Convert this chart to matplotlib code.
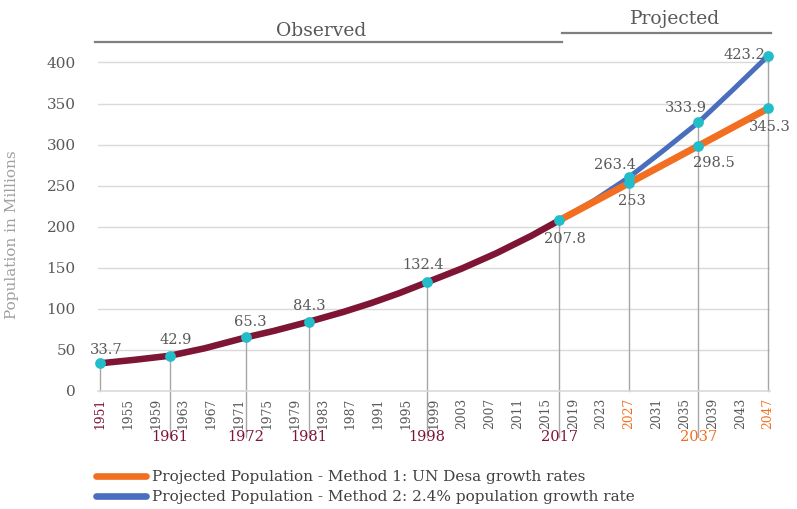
import matplotlib
matplotlib.use('Agg')
import matplotlib.pyplot as plt
from matplotlib.lines import Line2D

plt.rcParams['font.family'] = ['DejaVu Serif']

# ---------------- data ----------------
obs_years = [1951, 1956, 1961, 1966, 1972, 1976, 1981, 1986, 1990, 1994, 1998, 2003, 2008, 2013, 2017]
obs_vals = [33.7, 38.0, 42.9, 51.9, 65.3, 73.2, 84.3, 96.3, 107.1, 119.1, 132.4, 149.1, 167.9, 189.0, 207.8]

m1_years = [2017, 2027, 2037, 2047]
m1_vals = [207.8, 253.0, 298.5, 344.0]

m2_years = [2017, 2022, 2027, 2032, 2037, 2042, 2047]
m2_vals = [207.8, 232.0, 260.0, 293.0, 327.0, 367.0, 408.0]

census_years = [1951, 1961, 1972, 1981, 1998, 2017]
census_vals = [33.7, 42.9, 65.3, 84.3, 132.4, 207.8]
census_labels = ['33.7', '42.9', '65.3', '84.3', '132.4', '207.8']

m1_pts_years = [2027, 2037, 2047]
m1_pts_vals = [253.0, 298.5, 344.0]
m1_labels = ['253', '298.5', '345.3']

m2_pts_years = [2027, 2037, 2047]
m2_pts_vals = [260.0, 327.0, 408.0]
m2_labels = ['263.4', '333.9', '423.2']

tick_years = list(range(1951, 2048, 4))
second_row_years = [1961, 1972, 1981, 1998, 2017, 2037]

legend_labels = ['Projected Population - Method 1: UN Desa growth rates',
                 'Projected Population - Method 2: 2.4% population growth rate']

# ---------------- style ----------------
MAROON = '#7E1535'
ORANGE = '#F26F22'
BLUE = '#4A6EBE'
TEAL = '#22BDC8'
GRAY_TXT = '#595959'
GRID = '#D9D9D9'
DROP = '#A6A6A6'

W, H = 797, 509
fig = plt.figure(figsize=(W / 100, H / 100), dpi=100)
x0, x1 = 1950.7, 2047.3
y0, y1 = 0, 412
px_per_year = 6.958
left_px = 100 - (1951 - x0) * px_per_year
ax_w_px = (x1 - x0) * px_per_year
ax_h_px = 412 * 0.8213
ax = fig.add_axes([left_px / W, (H - 391) / H, ax_w_px / W, ax_h_px / H])
ax.set_xlim(x0, x1)
ax.set_ylim(y0, y1)

for s in ['top', 'right', 'left']:
    ax.spines[s].set_visible(False)
ax.spines['bottom'].set_color(GRID)
ax.spines['bottom'].set_linewidth(1.2)

ax.set_yticks(range(0, 401, 50))
for v in range(50, 401, 50):
    ax.axhline(v, color=GRID, lw=1.0, zorder=0)
ax.tick_params(axis='y', length=0, pad=16, labelsize=11, labelcolor=GRAY_TXT)
ax.set_xticks(tick_years)
ax.set_xticklabels([str(y) for y in tick_years], rotation=90, fontsize=8.8)
ax.tick_params(axis='x', length=0, pad=5, labelcolor=GRAY_TXT)
for lab, y in zip(ax.get_xticklabels(), tick_years):
    if y == 1951:
        lab.set_color(MAROON)
    elif y in (2027, 2047):
        lab.set_color(ORANGE)

ax.set_ylabel('Population in Millions', fontsize=11, color='#A0A0A0')
ax.yaxis.set_label_coords(-(left_px - 19) / ax_w_px, (391 - 235) / ax_h_px)

# lines
l2, = ax.plot(m2_years, m2_vals, color=BLUE, lw=3.6, solid_capstyle='round', zorder=3, clip_on=False)
l1, = ax.plot(m1_years, m1_vals, color=ORANGE, lw=5.0, solid_capstyle='round', zorder=4, clip_on=False)
ax.plot(obs_years, obs_vals, color=MAROON, lw=4.7, solid_capstyle='round', zorder=5, clip_on=False)

# drop lines
drop_bottom = -56
top_vals = {}
for yr, v in zip(census_years, census_vals):
    top_vals[yr] = v
for yr, v in zip(m2_pts_years, m2_pts_vals):
    top_vals[yr] = max(v, top_vals.get(yr, 0))
for yr, v in top_vals.items():
    bottom = drop_bottom if yr in second_row_years else 0
    ax.plot([yr, yr], [v, bottom], color=DROP, lw=1.0, zorder=2, clip_on=False)

# markers
ax.scatter(census_years, census_vals, s=60, color=TEAL, zorder=8, clip_on=False, linewidths=0)
ax.scatter(m1_pts_years, m1_pts_vals, s=60, color=TEAL, zorder=8, clip_on=False, linewidths=0)
ax.scatter(m2_pts_years, m2_pts_vals, s=60, color=TEAL, zorder=8, clip_on=False, linewidths=0)

# value labels (offsets in pixels)
k = 0.72
FS = 10.5
census_off = [(6, 13), (6, 16), (4, 15), (1, 16), (-4, 17), (6, -19)]
for yr, v, t, (dx, dy) in zip(census_years, census_vals, census_labels, census_off):
    ax.annotate(t, (yr, v), xytext=(dx * k, dy * k), textcoords='offset points',
                ha='center', va='center', fontsize=FS, color=GRAY_TXT, zorder=9, annotation_clip=False)
m1_off = [(3, -18), (15, -17), (2, -19)]
for yr, v, t, (dx, dy) in zip(m1_pts_years, m1_pts_vals, m1_labels, m1_off):
    ax.annotate(t, (yr, v), xytext=(dx * k, dy * k), textcoords='offset points',
                ha='center', va='center', fontsize=FS, color=GRAY_TXT, zorder=9, annotation_clip=False)
m2_off = [(-14, 12), (-13, 14), (-24, 1)]
for yr, v, t, (dx, dy) in zip(m2_pts_years, m2_pts_vals, m2_labels, m2_off):
    ax.annotate(t, (yr, v), xytext=(dx * k, dy * k), textcoords='offset points',
                ha='center', va='center', fontsize=FS, color=GRAY_TXT, zorder=9, annotation_clip=False)

# second row year labels
for yr in second_row_years:
    c = ORANGE if yr == 2037 else MAROON
    ax.text(yr, -56, str(yr), ha='center', va='center', fontsize=10.5, color=c, clip_on=False, zorder=9)

# Observed / Projected headers
def fx(px):
    return px / W

def fy(py):
    return (H - py) / H

fig.add_artist(Line2D([fx(95), fx(562)], [fy(42), fy(42)], color='#7F7F7F', lw=1.6))
fig.add_artist(Line2D([fx(562), fx(771)], [fy(33), fy(33)], color='#7F7F7F', lw=1.6))
fig.text(fx(321), fy(31), 'Observed', ha='center', va='center', fontsize=13.5, color=GRAY_TXT)
fig.text(fx(675), fy(19), 'Projected', ha='center', va='center', fontsize=13.5, color=GRAY_TXT)

# legend
h1 = Line2D([], [], color=ORANGE, lw=4.8, solid_capstyle='round')
h2 = Line2D([], [], color=BLUE, lw=4.8, solid_capstyle='round')
leg = fig.legend([h1, h2], legend_labels, loc='upper left', bbox_to_anchor=(fx(96), fy(470)),
                 frameon=False, fontsize=11, handlelength=3.3, handletextpad=0.35,
                 labelspacing=0.42, borderpad=0, borderaxespad=0)
for t in leg.get_texts():
    t.set_color('#404040')

fig.savefig('out.png', dpi=100)
